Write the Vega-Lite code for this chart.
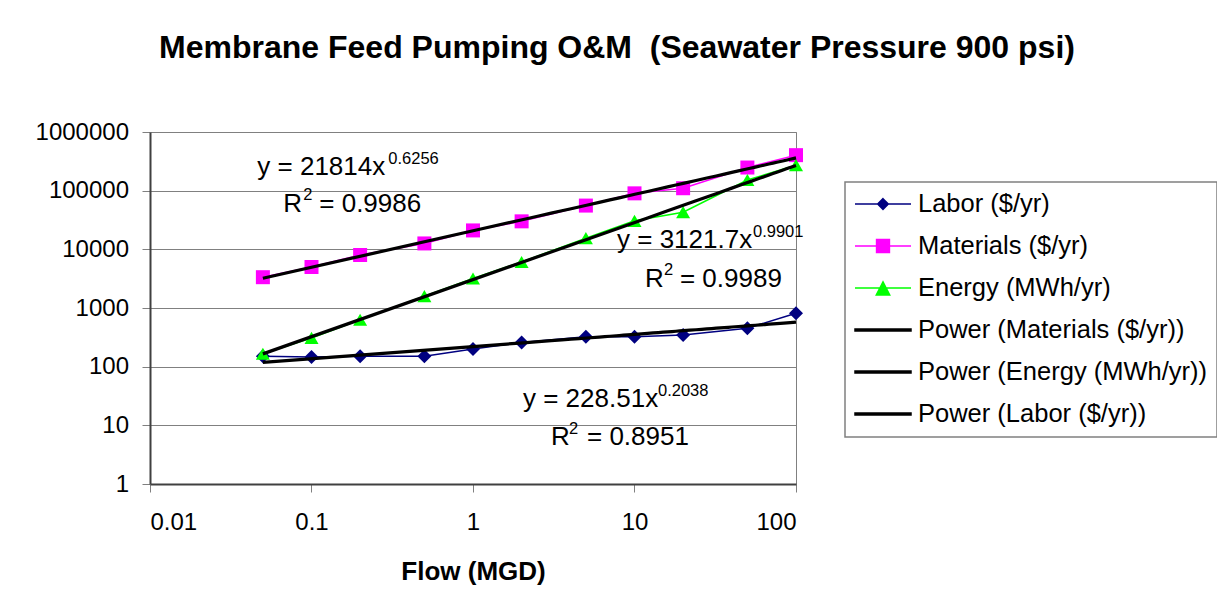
{
  "$schema": "https://vega.github.io/schema/vega-lite/v6.json",
  "width": 646,
  "height": 352,
  "autosize": {"type": "none"},
  "padding": {"left": 150, "top": 132, "right": 421, "bottom": 127},
  "background": "white",
  "title": {
    "text": "Membrane Feed Pumping O&M\u00a0 (Seawater Pressure 900 psi)",
    "font": "Liberation Sans",
    "fontSize": 32,
    "fontWeight": "bold",
    "color": "black",
    "anchor": "middle",
    "frame": "group",
    "dx": 144,
    "baseline": "alphabetic",
    "offset": 30
  },
  "datasets": {
    "obs": [
      {"flow": 0.05, "value": 150, "series": "Labor ($/yr)", "fit": "Power (Labor ($/yr))"},
      {"flow": 0.1, "value": 146, "series": "Labor ($/yr)", "fit": "Power (Labor ($/yr))"},
      {"flow": 0.2, "value": 150, "series": "Labor ($/yr)", "fit": "Power (Labor ($/yr))"},
      {"flow": 0.5, "value": 150, "series": "Labor ($/yr)", "fit": "Power (Labor ($/yr))"},
      {"flow": 1, "value": 200, "series": "Labor ($/yr)", "fit": "Power (Labor ($/yr))"},
      {"flow": 2, "value": 259, "series": "Labor ($/yr)", "fit": "Power (Labor ($/yr))"},
      {"flow": 5, "value": 323, "series": "Labor ($/yr)", "fit": "Power (Labor ($/yr))"},
      {"flow": 10, "value": 325, "series": "Labor ($/yr)", "fit": "Power (Labor ($/yr))"},
      {"flow": 20, "value": 348, "series": "Labor ($/yr)", "fit": "Power (Labor ($/yr))"},
      {"flow": 50, "value": 452, "series": "Labor ($/yr)", "fit": "Power (Labor ($/yr))"},
      {"flow": 100, "value": 813, "series": "Labor ($/yr)", "fit": "Power (Labor ($/yr))"},
      {"flow": 0.05, "value": 3350, "series": "Materials ($/yr)", "fit": "Power (Materials ($/yr))"},
      {"flow": 0.1, "value": 5000, "series": "Materials ($/yr)", "fit": "Power (Materials ($/yr))"},
      {"flow": 0.2, "value": 8000, "series": "Materials ($/yr)", "fit": "Power (Materials ($/yr))"},
      {"flow": 0.5, "value": 12600, "series": "Materials ($/yr)", "fit": "Power (Materials ($/yr))"},
      {"flow": 1, "value": 21000, "series": "Materials ($/yr)", "fit": "Power (Materials ($/yr))"},
      {"flow": 2, "value": 30000, "series": "Materials ($/yr)", "fit": "Power (Materials ($/yr))"},
      {"flow": 5, "value": 55700, "series": "Materials ($/yr)", "fit": "Power (Materials ($/yr))"},
      {"flow": 10, "value": 90000, "series": "Materials ($/yr)", "fit": "Power (Materials ($/yr))"},
      {"flow": 20, "value": 110000, "series": "Materials ($/yr)", "fit": "Power (Materials ($/yr))"},
      {"flow": 50, "value": 248000, "series": "Materials ($/yr)", "fit": "Power (Materials ($/yr))"},
      {"flow": 100, "value": 403000, "series": "Materials ($/yr)", "fit": "Power (Materials ($/yr))"},
      {"flow": 0.05, "value": 166, "series": "Energy (MWh/yr)", "fit": "Power (Energy (MWh/yr))"},
      {"flow": 0.1, "value": 309, "series": "Energy (MWh/yr)", "fit": "Power (Energy (MWh/yr))"},
      {"flow": 0.2, "value": 630, "series": "Energy (MWh/yr)", "fit": "Power (Energy (MWh/yr))"},
      {"flow": 0.5, "value": 1590, "series": "Energy (MWh/yr)", "fit": "Power (Energy (MWh/yr))"},
      {"flow": 1, "value": 3190, "series": "Energy (MWh/yr)", "fit": "Power (Energy (MWh/yr))"},
      {"flow": 2, "value": 6090, "series": "Energy (MWh/yr)", "fit": "Power (Energy (MWh/yr))"},
      {"flow": 5, "value": 15500, "series": "Energy (MWh/yr)", "fit": "Power (Energy (MWh/yr))"},
      {"flow": 10, "value": 30600, "series": "Energy (MWh/yr)", "fit": "Power (Energy (MWh/yr))"},
      {"flow": 20, "value": 43000, "series": "Energy (MWh/yr)", "fit": "Power (Energy (MWh/yr))"},
      {"flow": 50, "value": 152000, "series": "Energy (MWh/yr)", "fit": "Power (Energy (MWh/yr))"},
      {"flow": 100, "value": 272000, "series": "Energy (MWh/yr)", "fit": "Power (Energy (MWh/yr))"}
    ],
    "notes": [
      {"flow": 0.04618, "value": 184900, "label": "y = 21814x", "kind": "main"},
      {"flow": 0.2989, "value": 284800, "label": "0.6256", "kind": "sup"},
      {"flow": 0.06688, "value": 43800, "label": "R", "kind": "main"},
      {"flow": 0.08897, "value": 69330, "label": "2", "kind": "sup"},
      {"flow": 0.1117, "value": 43800, "label": "= 0.9986", "kind": "main"},
      {"flow": 7.793, "value": 10537, "label": "y = 3121.7x", "kind": "main"},
      {"flow": 54.16, "value": 16230, "label": "0.9901", "kind": "sup"},
      {"flow": 11.61, "value": 2307, "label": "R", "kind": "main"},
      {"flow": 15.23, "value": 3651, "label": "2", "kind": "sup"},
      {"flow": 19.12, "value": 2307, "label": "= 0.9989", "kind": "main"},
      {"flow": 2.039, "value": 20.54, "label": "y = 228.51x", "kind": "main"},
      {"flow": 13.98, "value": 31.62, "label": "0.2038", "kind": "sup"},
      {"flow": 3.041, "value": 4.62, "label": "R", "kind": "main"},
      {"flow": 3.93, "value": 7.116, "label": "2", "kind": "sup"},
      {"flow": 5.08, "value": 4.62, "label": "= 0.8951", "kind": "main"}
    ]
  },
  "config": {
    "view": {"stroke": "#808080", "strokeWidth": 1},
    "axis": {
      "labelFont": "Liberation Sans",
      "labelFontSize": 24,
      "labelColor": "black",
      "titleFont": "Liberation Sans",
      "titleFontSize": 26,
      "titleFontWeight": "bold",
      "titleColor": "black",
      "domainColor": "#404040",
      "domainWidth": 2,
      "tickColor": "#808080",
      "tickSize": 8,
      "tickWidth": 1,
      "gridColor": "#808080",
      "gridWidth": 1
    },
    "legend": {
      "title": null,
      "orient": "none",
      "legendX": 695,
      "legendY": 50,
      "labelFont": "Liberation Sans",
      "labelFontSize": 25.5,
      "labelColor": "black",
      "labelLimit": 600,
      "labelOffset": 6,
      "padding": 9,
      "rowPadding": 15,
      "clipHeight": 26,
      "strokeColor": "#808080",
      "symbolOffset": 0,
      "symbolSize": 3136,
      "symbolOpacity": 1
    }
  },
  "encoding": {
    "x": {
      "field": "flow",
      "type": "quantitative",
      "scale": {"type": "log", "domain": [0.01, 100], "nice": false},
      "axis": {
        "values": [0.01, 0.1, 1, 10, 100],
        "format": "~f",
        "title": "Flow (MGD)",
        "grid": false,
        "labelPadding": 18,
        "titlePadding": 24
      }
    },
    "y": {
      "field": "value",
      "type": "quantitative",
      "scale": {"type": "log", "domain": [1, 1000000], "nice": false},
      "axis": {
        "values": [1, 10, 100, 1000, 10000, 100000, 1000000],
        "format": "d",
        "title": null,
        "grid": true,
        "labelPadding": 13.5
      }
    }
  },
  "layer": [
    {
      "data": {"name": "obs"},
      "transform": [{"filter": "datum.series === 'Labor ($/yr)'"}],
      "mark": {
        "type": "line",
        "color": "#000080",
        "strokeWidth": 1.5,
        "point": {"filled": true, "shape": "diamond", "size": 196, "color": "#000080", "opacity": 1}
      }
    },
    {
      "data": {"name": "obs"},
      "transform": [{"filter": "datum.series === 'Materials ($/yr)'"}],
      "mark": {
        "type": "line",
        "color": "#FF00FF",
        "strokeWidth": 1.5,
        "point": {"filled": true, "shape": "square", "size": 196, "color": "#FF00FF", "opacity": 1}
      }
    },
    {
      "data": {"name": "obs"},
      "transform": [{"filter": "datum.series === 'Energy (MWh/yr)'"}],
      "mark": {
        "type": "line",
        "color": "#00FF00",
        "strokeWidth": 1.5,
        "point": {"filled": true, "shape": "triangle-up", "size": 196, "color": "#00FF00", "opacity": 1}
      }
    },
    {
      "data": {"name": "obs"},
      "transform": [
        {"regression": "value", "on": "flow", "groupby": ["fit"], "method": "pow", "extent": [0.05, 100]}
      ],
      "mark": {"type": "line", "color": "black", "strokeWidth": 3.2},
      "encoding": {"detail": {"field": "fit"}}
    },
    {
      "data": {"name": "notes"},
      "transform": [{"filter": "datum.kind === 'main'"}],
      "mark": {"type": "text", "align": "left", "baseline": "alphabetic", "font": "Liberation Sans", "fontSize": 26, "color": "black"},
      "encoding": {"text": {"field": "label"}}
    },
    {
      "data": {"name": "notes"},
      "transform": [{"filter": "datum.kind === 'sup'"}],
      "mark": {"type": "text", "align": "left", "baseline": "alphabetic", "font": "Liberation Sans", "fontSize": 16.5, "color": "black"},
      "encoding": {"text": {"field": "label"}}
    },
    {
      "data": {"name": "obs"},
      "transform": [{"filter": "datum.flow > 100000"}],
      "mark": {"type": "point", "filled": true, "size": 3136, "opacity": 1, "strokeWidth": 1.5},
      "encoding": {
        "color": {
          "field": "series",
          "type": "nominal",
          "scale": {
            "domain": ["Labor ($/yr)", "Materials ($/yr)", "Energy (MWh/yr)", "Power (Materials ($/yr))", "Power (Energy (MWh/yr))", "Power (Labor ($/yr))"],
            "range": ["#000080", "#FF00FF", "#00FF00", "#000000", "#000000", "#000000"]
          },
          "legend": {
            "encode": {
              "legend": {"update": {"strokeWidth": {"value": 1.5}}}
            }
          }
        },
        "stroke": {
          "field": "series",
          "type": "nominal",
          "scale": {
            "domain": ["Labor ($/yr)", "Materials ($/yr)", "Energy (MWh/yr)", "Power (Materials ($/yr))", "Power (Energy (MWh/yr))", "Power (Labor ($/yr))"],
            "range": ["#000080", "#FF00FF", "#00FF00", "#000000", "#000000", "#000000"]
          }
        },
        "shape": {
          "field": "series",
          "type": "nominal",
          "scale": {
            "domain": ["Labor ($/yr)", "Materials ($/yr)", "Energy (MWh/yr)", "Power (Materials ($/yr))", "Power (Energy (MWh/yr))", "Power (Labor ($/yr))"],
            "range": [
              "M-1,0L1,0M0,-0.19L0.19,0L0,0.19L-0.19,0Z",
              "M-1,0L1,0M-0.23,-0.23L0.23,-0.23L0.23,0.23L-0.23,0.23Z",
              "M-1,0L1,0M0,-0.22L0.24,0.25L-0.24,0.25Z",
              "M-1,-0.035L1,-0.035L1,0.035L-1,0.035Z",
              "M-1,-0.035L1,-0.035L1,0.035L-1,0.035Z",
              "M-1,-0.035L1,-0.035L1,0.035L-1,0.035Z"
            ]
          }
        }
      }
    }
  ]
}
